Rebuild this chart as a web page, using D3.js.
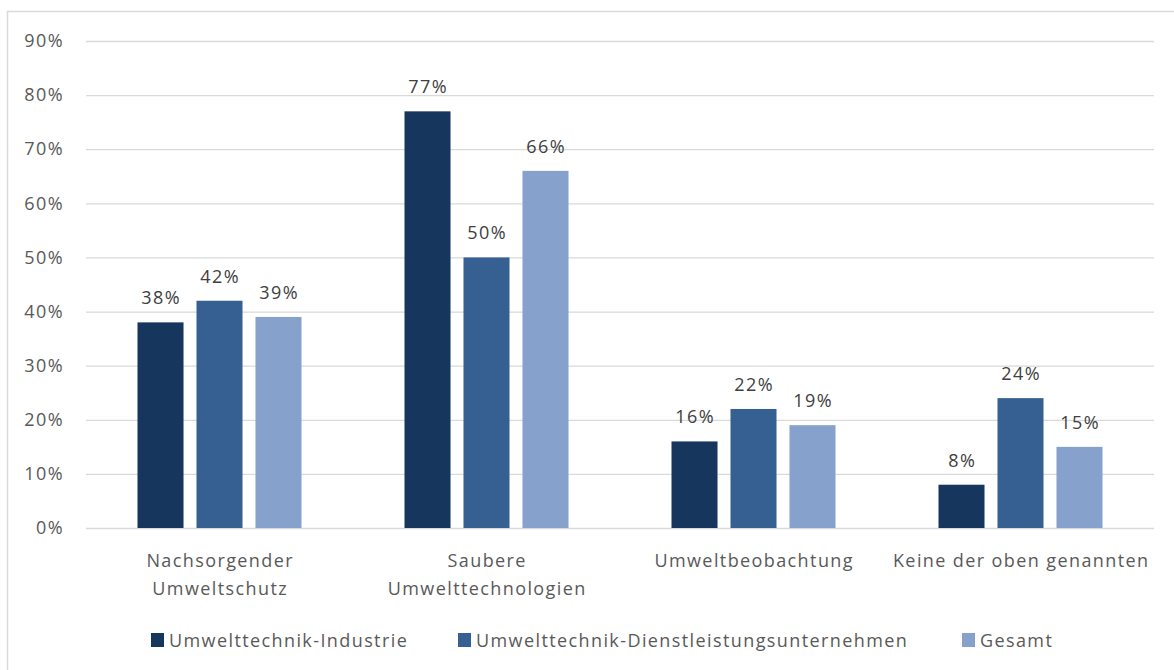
<!DOCTYPE html>
<html><head><meta charset="utf-8">
<script src="https://cdn.jsdelivr.net/npm/d3@7"></script>
<style>body{margin:0;background:#fff;} svg{display:block;font-family:"Open Sans","Noto Sans",sans-serif;}</style>
</head><body><svg id="c" width="1174" height="670"></svg>
<script>
const categories = [["Nachsorgender","Umweltschutz"],["Saubere","Umwelttechnologien"],["Umweltbeobachtung"],["Keine der oben genannten"]];
const seriesNames = ["Umwelttechnik-Industrie","Umwelttechnik-Dienstleistungsunternehmen","Gesamt"];
const industrie = [38,77,16,8];
const dienstleistung = [42,50,22,24];
const gesamt = [39,66,19,15];
const colors = ["#17365d","#366092","#86a1cb"];
const yTicks = [0,10,20,30,40,50,60,70,80,90];

(function(){
const svg = d3.select("#c");
const FS = 18, LS = 1.4;
svg.append("rect").attr("x",7.5).attr("y",11.5).attr("width",1180).attr("height",700)
  .attr("fill","none").attr("stroke","#d9d9d9").attr("stroke-width",1.5);

const pLeft=86,pRight=1154,pTop=41,pBottom=528;
const y = d3.scaleLinear().domain([0,90]).range([pBottom,pTop]);
const x0 = d3.scaleBand().domain(d3.range(4)).range([pLeft,pRight]);
const x1 = d3.scaleBand().domain(d3.range(3)).range([0,164]).paddingInner(0.22);
const values = [industrie,dienstleistung,gesamt];

const yAxis = d3.axisLeft(y).tickValues(yTicks).tickSize(-(pRight-pLeft)).tickFormat(d=>d+"%").tickPadding(22);
const ga = svg.append("g").attr("transform",`translate(${pLeft},0)`).call(yAxis);
ga.select(".domain").remove();
ga.selectAll(".tick line").attr("stroke","#d9d9d9").attr("stroke-width",1.3);
ga.selectAll(".tick text").attr("fill","#595959").attr("font-size",FS).attr("font-family","Open Sans").attr("letter-spacing",LS);

const groups = svg.append("g").selectAll("g").data(d3.range(4)).join("g")
  .attr("transform",d=>`translate(${x0(d)+(x0.bandwidth()-164)/2},0)`);
groups.selectAll("rect").data(c=>values.map((v,s)=>({s,v:v[c]}))).join("rect")
  .attr("x",d=>x1(d.s)).attr("width",x1.bandwidth())
  .attr("y",d=>y(d.v)).attr("height",d=>pBottom-y(d.v)).attr("fill",d=>colors[d.s]);
groups.selectAll("text").data(c=>values.map((v,s)=>({s,v:v[c]}))).join("text")
  .attr("x",d=>x1(d.s)+x1.bandwidth()/2+LS/2).attr("y",d=>y(d.v)-18)
  .attr("text-anchor","middle").attr("fill","#404040").attr("font-size",FS).attr("letter-spacing",LS)
  .text(d=>d.v+"%");

const cl = svg.append("g").selectAll("text").data(categories).join("text")
  .attr("x",(d,i)=>x0(i)+x0.bandwidth()/2+LS/2).attr("y",567)
  .attr("text-anchor","middle").attr("fill","#595959").attr("font-size",FS).attr("letter-spacing",LS);
cl.selectAll("tspan").data(d=>d).join("tspan")
  .attr("x",function(){return this.parentNode.getAttribute("x");})
  .attr("dy",(d,i)=>i?28:0).text(d=>d);

const legX = [151,458,962];
const lg = svg.append("g").selectAll("g").data(seriesNames).join("g")
  .attr("transform",(d,i)=>`translate(${legX[i]},633)`);
lg.append("rect").attr("width",13).attr("height",14).attr("fill",(d,i)=>colors[i]);
lg.append("text").attr("x",18).attr("y",14).attr("fill","#595959").attr("font-size",FS).attr("letter-spacing",LS).text(d=>d);
})();
</script></body></html>
